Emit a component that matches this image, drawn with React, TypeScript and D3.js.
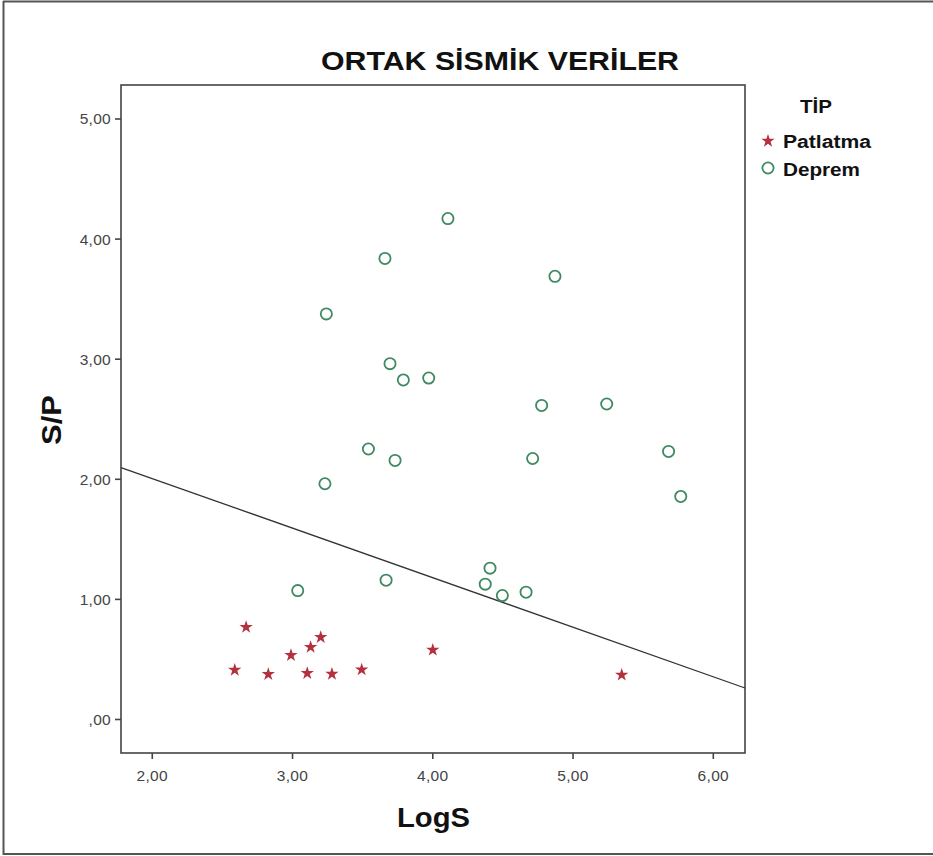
import React from "react";
import * as d3 from "d3";

const patlatmaX = [2.669, 2.588, 2.827, 2.989, 3.129, 3.201, 3.105, 3.281, 3.493, 4.0, 5.347];
const patlatmaY = [0.769, 0.412, 0.377, 0.535, 0.602, 0.685, 0.385, 0.379, 0.415, 0.579, 0.371];

const depremX = [4.108, 3.659, 4.871, 3.241, 3.695, 3.79, 3.971, 4.776, 5.24, 3.541, 3.731, 4.712, 5.681, 5.768, 3.231, 4.408, 4.374, 4.496, 4.665, 3.667, 3.037];
const depremY = [4.171, 3.839, 3.69, 3.377, 2.963, 2.827, 2.843, 2.615, 2.627, 2.252, 2.157, 2.173, 2.232, 1.857, 1.963, 1.26, 1.127, 1.032, 1.06, 1.16, 1.073];

const xTicks = [2, 3, 4, 5, 6];
const yTicks = [0, 1, 2, 3, 4, 5];
const fitIntercept = 2.831;
const fitSlope = -0.4126;

const fmt = (v: number) => (v === 0 ? ",00" : v.toFixed(2).replace(".", ","));

export default function App() {
  const W = 933, H = 856;
  const left = 121, right = 745, top = 85, bottom = 753;
  const x = d3.scaleLinear().domain([1.777, 6.226]).range([left, right]);
  const y = d3.scaleLinear().domain([-0.279, 5.283]).range([bottom, top]);
  const [x0, x1] = x.domain();
  const line = d3.line<[number, number]>().x(d => x(d[0])).y(d => y(d[1]));
  const fitPath = line([[x0, fitIntercept + fitSlope * x0], [x1, fitIntercept + fitSlope * x1]]);
  const star = d3.symbol().type(d3.symbolStar).size(55)();
  const red = "#b3303c";
  const green = "#3f8a60";
  const font = "'Liberation Sans', Arial, sans-serif";
  return (
    <div style={{ position: "absolute", left: 0, top: 0 }}>
      <svg width={W} height={H} style={{ display: "block", background: "#fff" }} fontFamily={font}>
        <rect x={0} y={0} width={W} height={H} fill="#fff" />
        {/* outer frame */}
        <line x1={3} y1={1.5} x2={W} y2={1.5} stroke="#555" strokeWidth={2} />
        <line x1={3.5} y1={1} x2={3.5} y2={855} stroke="#555" strokeWidth={2} />
        <line x1={3} y1={854} x2={W} y2={854} stroke="#555" strokeWidth={2} />

        <text x={321} y={70} fontSize={26} fontWeight="bold" fill="#111" textLength={358} lengthAdjust="spacingAndGlyphs">
          ORTAK SİSMİK VERİLER
        </text>

        {/* plot frame */}
        <rect x={left} y={top} width={right - left} height={bottom - top} fill="none" stroke="#444" strokeWidth={1.6} />

        {/* y ticks */}
        {yTicks.map(t => (
          <g key={"y" + t}>
            <line x1={left - 6} x2={left} y1={y(t)} y2={y(t)} stroke="#444" strokeWidth={1.6} />
            <text x={left - 10} y={y(t)} dy="0.35em" textAnchor="end" fontSize={15.5} fill="#444" letterSpacing={0.3}>{fmt(t)}</text>
          </g>
        ))}
        {/* x ticks */}
        {xTicks.map(t => (
          <g key={"x" + t}>
            <line x1={x(t)} x2={x(t)} y1={bottom} y2={bottom + 6} stroke="#444" strokeWidth={1.6} />
            <text x={x(t)} y={bottom + 23} dy="0.35em" textAnchor="middle" fontSize={15.5} fill="#444" letterSpacing={0.3}>{fmt(t)}</text>
          </g>
        ))}

        <text x={397} y={827} fontSize={28} fontWeight="bold" fill="#111" textLength={73} lengthAdjust="spacingAndGlyphs">LogS</text>
        <text transform={`translate(61,445) rotate(-90)`} fontSize={28} fontWeight="bold" fill="#111" textLength={50} lengthAdjust="spacingAndGlyphs">S/P</text>

        {/* fit line */}
        <path d={fitPath || ""} fill="none" stroke="#333" strokeWidth={1.3} />

        {/* deprem circles */}
        {depremX.map((v, i) => (
          <circle key={"d" + i} cx={x(v)} cy={y(depremY[i])} r={5.6} fill="none" stroke={green} strokeWidth={1.8} />
        ))}
        {/* patlatma stars */}
        {patlatmaX.map((v, i) => (
          <path key={"p" + i} d={star || ""} transform={`translate(${x(v)},${y(patlatmaY[i])})`} fill={red} />
        ))}

        {/* legend */}
        <text x={800} y={113} fontSize={18} fontWeight="bold" fill="#111" textLength={32} lengthAdjust="spacingAndGlyphs">TİP</text>
        <path d={star || ""} transform="translate(768,141)" fill={red} />
        <text x={783} y={148} fontSize={18} fontWeight="bold" fill="#111" textLength={88} lengthAdjust="spacingAndGlyphs">Patlatma</text>
        <circle cx={768} cy={168} r={5.6} fill="none" stroke={green} strokeWidth={1.8} />
        <text x={783} y={176} fontSize={18} fontWeight="bold" fill="#111" textLength={77} lengthAdjust="spacingAndGlyphs">Deprem</text>
      </svg>
    </div>
  );
}
